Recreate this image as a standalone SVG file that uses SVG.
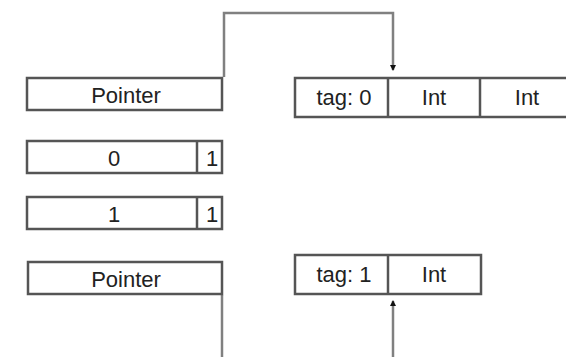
<svg xmlns="http://www.w3.org/2000/svg" width="566" height="357" viewBox="0 0 566 357">
<style>
.box{fill:#fff;stroke:#555;stroke-width:2.5}
.div{stroke:#555;stroke-width:2.5}
.t{font-family:"Liberation Sans",Arial,sans-serif;font-size:22px;fill:#222;text-anchor:middle}
.c{fill:none;stroke:#808080;stroke-width:2.5}
</style>
<defs>
<marker id="ah" markerWidth="6" markerHeight="6" refX="5" refY="3" orient="auto" markerUnits="userSpaceOnUse">
<path d="M0,0 L6,3 L0,6 Z" fill="#111"/>
</marker>
</defs>
<rect width="566" height="357" fill="#fff"/>
<g id="connectors">
<path class="c" d="M224,77 V13 H393 V70" marker-end="url(#ah)"/>
<path class="c" d="M393,357 V301" marker-end="url(#ah)"/>
<path class="c" d="M222,295 V357"/>
</g>
<g id="pointer1">
<rect class="box" x="27" y="78" width="195" height="32"/>
<text class="t" x="126" y="103">Pointer</text>
</g>
<g id="box0">
<rect class="box" x="27" y="141" width="195" height="32"/>
<line class="div" x1="197" y1="141" x2="197" y2="173"/>
<text class="t" x="114" y="166">0</text>
<text class="t" x="212" y="166">1</text>
</g>
<g id="box1">
<rect class="box" x="27" y="197" width="195" height="32"/>
<line class="div" x1="197" y1="197" x2="197" y2="229"/>
<text class="t" x="114" y="222">1</text>
<text class="t" x="212" y="222">1</text>
</g>
<g id="pointer2">
<rect class="box" x="28" y="262" width="194" height="32"/>
<text class="t" x="126" y="287">Pointer</text>
</g>
<g id="tag0">
<rect class="box" x="295" y="78" width="280" height="39"/>
<line class="div" x1="388" y1="78" x2="388" y2="117"/>
<line class="div" x1="480" y1="78" x2="480" y2="117"/>
<text class="t" x="344" y="105">tag: 0</text>
<text class="t" x="434" y="105">Int</text>
<text class="t" x="527" y="105">Int</text>
</g>
<g id="tag1">
<rect class="box" x="295" y="255" width="186" height="39"/>
<line class="div" x1="388" y1="255" x2="388" y2="294"/>
<text class="t" x="344" y="282">tag: 1</text>
<text class="t" x="434" y="282">Int</text>
</g>
</svg>
